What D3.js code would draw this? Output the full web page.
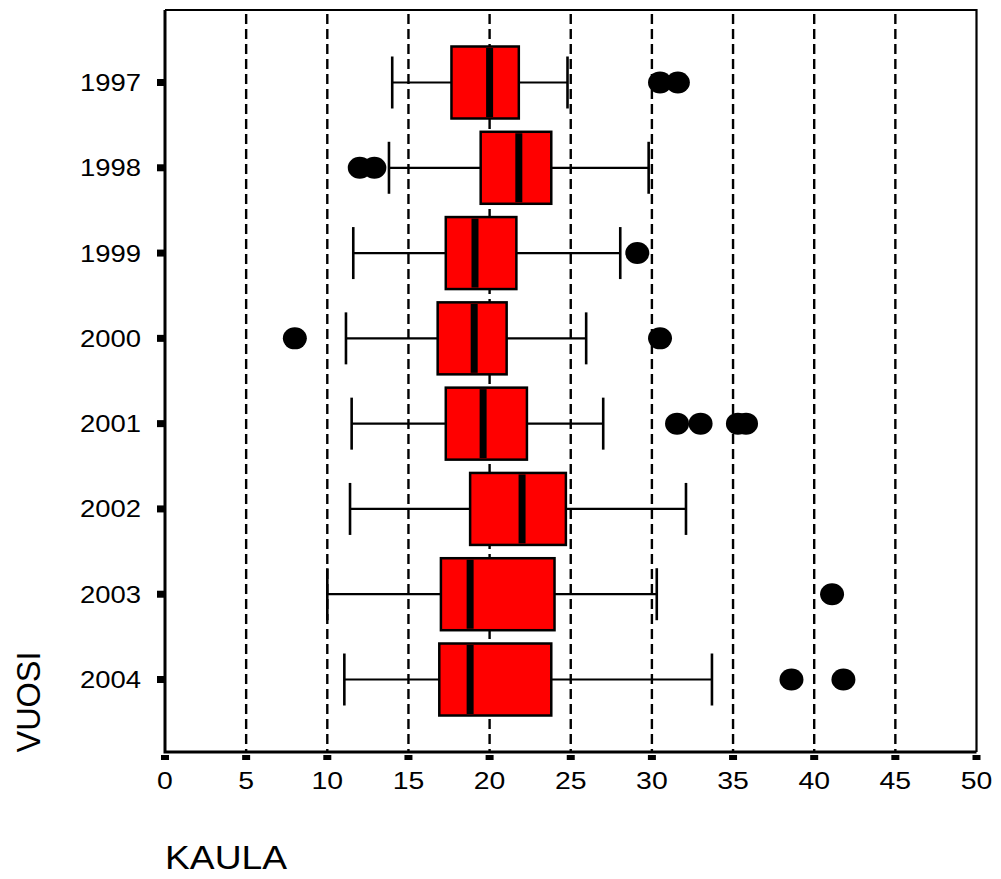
<!DOCTYPE html>
<html lang="fi">
<head>
<meta charset="UTF-8">
<title>KAULA / VUOSI</title>
<style>
  body { margin: 0; background: #fff; }
  svg { display: block; font-family: "Liberation Sans", Arial, sans-serif; }
  .grid { stroke: #000; stroke-width: 2.4; stroke-dasharray: 10,5; }
  .box { fill: #ff0000; stroke: #000; stroke-width: 2.5; }
  .whisker { stroke: #000; stroke-width: 2.2; }
  .cap { stroke: #000; stroke-width: 2.6; }
  .median { stroke: #000; stroke-width: 7; }
  .frame { fill: none; stroke: #000; }
  .lbl { font-size: 24px; fill: #000; }
  .title { font-size: 34px; fill: #000; }
</style>
</head>
<body>
<svg id="chart" width="1001" height="879"></svg>
<script src="https://d3js.org/d3.v7.min.js"></script>
<script>
// data
const years    = ["1997", "1998", "1999", "2000", "2001", "2002", "2003", "2004"];
const whiskLo  = [14.0, 13.8, 11.6, 11.15, 11.5, 11.4, 10.0, 11.05];
const q1       = [17.65, 19.45, 17.3, 16.8, 17.3, 18.8, 17.0, 16.9];
const medians  = [20.0, 21.8, 19.1, 19.05, 19.6, 22.0, 18.8, 18.8];
const q3       = [21.8, 23.8, 21.65, 21.05, 22.3, 24.7, 24.0, 23.8];
const whiskHi  = [24.8, 29.8, 28.05, 25.95, 27.0, 32.1, 30.3, 33.7];
const outliers = [
  [30.5, 31.6],
  [12.0, 12.9],
  [29.1],
  [8.0, 30.5],
  [31.55, 33.0, 35.3, 35.8],
  [],
  [41.1],
  [38.6, 41.8]
];
const xTicks = [0, 5, 10, 15, 20, 25, 30, 35, 40, 45, 50];
const gridVals = [5, 10, 15, 20, 25, 30, 35, 40, 45];

const svg = d3.select("#chart");
const plotL = 165, plotR = 976.5, plotT = 10, plotB = 752;

const x = d3.scaleLinear().domain([0, 50]).range([plotL, plotR]);
const y = d3.scalePoint().domain(years).range([plotT, plotB]).padding(0.85);

const rows = years.map((yr, i) => ({
  yr, lo: whiskLo[i], q1: q1[i], med: medians[i], q3: q3[i], hi: whiskHi[i], out: outliers[i]
}));

// dashed reference lines
svg.append("g").selectAll("line").data(gridVals).join("line")
  .attr("class", "grid")
  .attr("x1", d => x(d)).attr("x2", d => x(d))
  .attr("y1", plotT + 4).attr("y2", plotB);

const g = svg.append("g");
const boxH = 36, capH = 26;

// whiskers
g.selectAll(".wl").data(rows).join("line")
  .attr("class", "whisker wl")
  .attr("x1", d => x(d.lo)).attr("x2", d => x(d.q1))
  .attr("y1", d => y(d.yr)).attr("y2", d => y(d.yr));
g.selectAll(".wh").data(rows).join("line")
  .attr("class", "whisker wh")
  .attr("x1", d => x(d.q3)).attr("x2", d => x(d.hi))
  .attr("y1", d => y(d.yr)).attr("y2", d => y(d.yr));
g.selectAll(".cl").data(rows).join("line")
  .attr("class", "cap cl")
  .attr("x1", d => x(d.lo)).attr("x2", d => x(d.lo))
  .attr("y1", d => y(d.yr) - capH).attr("y2", d => y(d.yr) + capH);
g.selectAll(".ch").data(rows).join("line")
  .attr("class", "cap ch")
  .attr("x1", d => x(d.hi)).attr("x2", d => x(d.hi))
  .attr("y1", d => y(d.yr) - capH).attr("y2", d => y(d.yr) + capH);

// boxes
g.selectAll("rect.box").data(rows).join("rect")
  .attr("class", "box")
  .attr("x", d => x(d.q1)).attr("width", d => x(d.q3) - x(d.q1))
  .attr("y", d => y(d.yr) - boxH).attr("height", boxH * 2);

// medians
g.selectAll("line.median").data(rows).join("line")
  .attr("class", "median")
  .attr("x1", d => x(d.med)).attr("x2", d => x(d.med))
  .attr("y1", d => y(d.yr) - boxH + 1.5).attr("y2", d => y(d.yr) + boxH - 1.5);

// outliers
const pts = rows.flatMap(d => d.out.map(v => ({ yr: d.yr, v })));
g.selectAll("ellipse").data(pts).join("ellipse")
  .attr("cx", d => x(d.v)).attr("cy", d => y(d.yr))
  .attr("rx", 12).attr("ry", 11)
  .attr("fill", "#000");

// frame: thin top/right, heavier left/bottom
svg.append("path").attr("class", "frame").attr("stroke-width", 2.2)
  .attr("d", `M${plotL},${plotT}H${plotR}V${plotB}`);
svg.append("path").attr("class", "frame").attr("stroke-width", 3)
  .attr("d", `M${plotL},${plotT}V${plotB}H${plotR}`);

// y ticks + labels
svg.append("g").selectAll("rect").data(years).join("rect")
  .attr("x", plotL - 8).attr("y", d => y(d) - 3.5)
  .attr("width", 7).attr("height", 7).attr("fill", "#000");
svg.append("g").selectAll("text").data(years).join("text")
  .attr("class", "lbl")
  .attr("x", 141).attr("y", d => y(d) + 8.5)
  .attr("text-anchor", "end")
  .attr("textLength", 61).attr("lengthAdjust", "spacingAndGlyphs")
  .text(d => d);

// x ticks + labels
svg.append("g").selectAll("rect").data(xTicks).join("rect")
  .attr("x", d => x(d) - 4).attr("y", plotB + 3)
  .attr("width", 8).attr("height", 5).attr("fill", "#000");
svg.append("g").selectAll("text").data(xTicks).join("text")
  .attr("class", "lbl")
  .attr("x", d => x(d)).attr("y", 789)
  .attr("text-anchor", "middle")
  .attr("textLength", d => String(d).length * 15.8).attr("lengthAdjust", "spacingAndGlyphs")
  .text(d => d);

// axis titles
svg.append("text").attr("class", "title")
  .attr("transform", "translate(40,702) rotate(-90)")
  .attr("text-anchor", "middle")
  .attr("textLength", 101).attr("lengthAdjust", "spacingAndGlyphs")
  .text("VUOSI");
svg.append("text").attr("class", "title")
  .attr("x", 165).attr("y", 869)
  .attr("textLength", 122).attr("lengthAdjust", "spacingAndGlyphs")
  .text("KAULA");
</script>
</body>
</html>
